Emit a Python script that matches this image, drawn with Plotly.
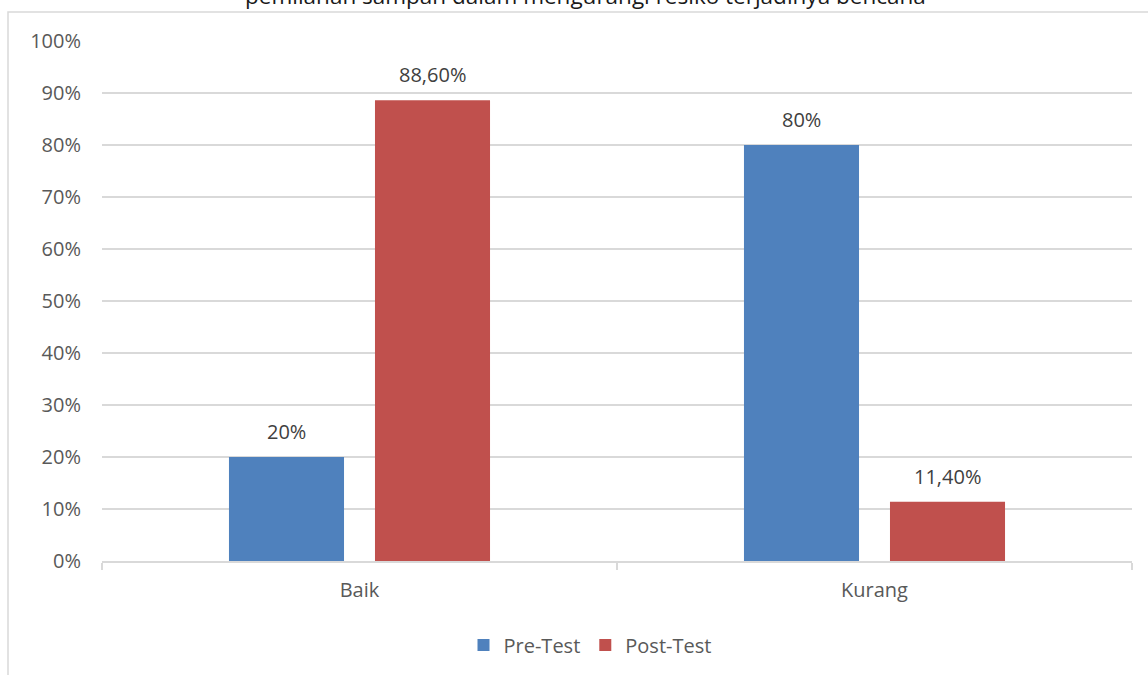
import plotly.graph_objects as go

categories = ["Baik", "Kurang"]
pre_test = [0.20, 0.80]
post_test = [0.886, 0.114]
pre_labels = ["20%", "80%"]
post_labels = ["88,60%", "11,40%"]
y_ticks = [i / 10 for i in range(11)]
y_tick_labels = [f"{i * 10}%" for i in range(11)]
title_text = "pemilahan sampah dalam mengurangi resiko terjadinya bencana"

FONT = "Open Sans"
W, H = 1148, 675
L, R, T, B = 102, 16, 41, 113
BARGAP = 0.433

fig = go.Figure()
fig.add_trace(go.Bar(name="Pre-Test", x=categories, y=pre_test,
                     marker=dict(color="#4F81BD", line=dict(width=0))))
fig.add_trace(go.Bar(name="Post-Test", x=categories, y=post_test,
                     marker=dict(color="#C0504D", line=dict(width=0))))

annotations = []
n = 2
for ti, (vals, labs) in enumerate([(pre_test, pre_labels), (post_test, post_labels)]):
    for ci, (v, lab) in enumerate(zip(vals, labs)):
        off = (-0.5 + (ti + 0.5) / n) * (1 - BARGAP)
        annotations.append(dict(x=ci + off, y=v, xref="x", yref="y", text=lab,
                                showarrow=False, yanchor="bottom", yshift=10,
                                font=dict(family=FONT, size=20, color="#404040")))

plot_w = W - L - R
plot_h = H - T - B
annotations.append(dict(x=(585 - L) / plot_w, xref="paper", y=(H - B - 13) / plot_h,
                        yref="paper", text=title_text, showarrow=False,
                        xanchor="center", yanchor="bottom",
                        font=dict(family=FONT, size=22.5, color="#1a1a1a")))

fig.update_layout(
    width=W, height=H,
    margin=dict(l=L, r=R, t=T, b=B, pad=0),
    paper_bgcolor="white", plot_bgcolor="white",
    barmode="group", bargap=BARGAP, bargroupgap=0.212,
    font=dict(family=FONT, size=20, color="#595959"),
    showlegend=True,
    legend=dict(orientation="h", x=(590 - L) / plot_w, xanchor="center",
                y=(H - B - 645) / plot_h, yanchor="middle",
                font=dict(family=FONT, size=20, color="#595959"),
                itemsizing="constant"),
    annotations=annotations,
    shapes=[dict(type="rect", xref="paper", yref="paper",
                 x0=(8 - L) / plot_w, x1=(W + 20 - L) / plot_w,
                 y0=(H - B - 700) / plot_h, y1=(H - B - 12) / plot_h,
                 line=dict(color="#D9D9D9", width=1.5), fillcolor="rgba(0,0,0,0)",
                 layer="below")],
)
fig.update_xaxes(type="category", showline=True, linecolor="#D9D9D9", linewidth=1.5,
                 ticks="outside", tickson="boundaries", ticklen=7, tickcolor="#D9D9D9",
                 tickwidth=1.5, showgrid=False, ticklabelstandoff=10,
                 tickfont=dict(family=FONT, size=20, color="#595959"))
fig.update_yaxes(range=[0, 1], tickvals=y_ticks, ticktext=y_tick_labels,
                 showgrid=True, gridcolor="#D9D9D9", gridwidth=1.5, zeroline=False,
                 showline=False, ticks="", ticklabelstandoff=20,
                 tickfont=dict(family=FONT, size=20, color="#595959"))

fig.write_html("out.html", config={"displayModeBar": False},
               post_script="document.body.style.margin='0px';")
